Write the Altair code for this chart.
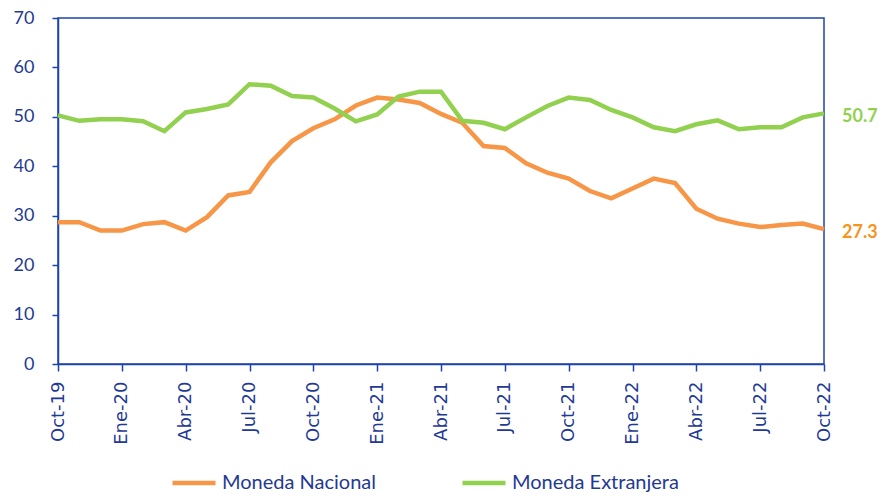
import altair as alt
import pandas as pd

meses = ["Oct-19", "Nov-19", "Dic-19", "Ene-20", "Feb-20", "Mar-20", "Abr-20", "May-20",
         "Jun-20", "Jul-20", "Ago-20", "Sep-20", "Oct-20", "Nov-20", "Dic-20", "Ene-21",
         "Feb-21", "Mar-21", "Abr-21", "May-21", "Jun-21", "Jul-21", "Ago-21", "Sep-21",
         "Oct-21", "Nov-21", "Dic-21", "Ene-22", "Feb-22", "Mar-22", "Abr-22", "May-22",
         "Jun-22", "Jul-22", "Ago-22", "Sep-22", "Oct-22"]

moneda_nacional = [28.7, 28.7, 27.0, 27.0, 28.3, 28.7, 27.0, 29.7, 34.1, 34.8, 40.8, 45.1,
                   47.7, 49.5, 52.3, 53.9, 53.5, 52.8, 50.6, 48.8, 44.1, 43.7, 40.6, 38.7,
                   37.5, 35.0, 33.5, 35.5, 37.5, 36.6, 31.4, 29.4, 28.4, 27.7, 28.1, 28.4, 27.3]

moneda_extranjera = [50.3, 49.2, 49.5, 49.5, 49.1, 47.1, 50.9, 51.6, 52.5, 56.6, 56.3, 54.2,
                     53.9, 51.7, 49.1, 50.5, 54.1, 55.1, 55.1, 49.2, 48.8, 47.5, 49.9, 52.2,
                     53.9, 53.4, 51.4, 49.9, 47.9, 47.1, 48.5, 49.3, 47.5, 47.9, 47.9, 49.9, 50.7]

series = ["Moneda Nacional", "Moneda Extranjera"]
line_colors = ["#F79646", "#92D050"]
text_colors = ["#F7941D", "#92D050"]
tick_labels = meses[::3]
y_ticks = [0, 10, 20, 30, 40, 50, 60, 70]

AXIS_BLUE = "#1F44A8"
TEXT_BLUE = "#1F3A93"
FONT = "Lato"

rows = []
for s, vals in zip(series, [moneda_nacional, moneda_extranjera]):
    for m, v in zip(meses, vals):
        rows.append({"mes": m, "serie": s, "valor": v})
df = pd.DataFrame(rows)

end_df = pd.DataFrame({
    "mes": [meses[-1], meses[-1]],
    "serie": series,
    "valor": [moneda_nacional[-1], moneda_extranjera[-1]],
    "label": [f"{moneda_nacional[-1]:.1f}", f"{moneda_extranjera[-1]:.1f}"],
})

x_enc = alt.X("mes:O", sort=meses,
              scale=alt.Scale(type="point", padding=0),
              axis=alt.Axis(values=tick_labels, labelAngle=270, title=None,
                            labelFontSize=18, labelFont="DejaVu Sans", labelColor=TEXT_BLUE,
                            tickSize=7, tickColor=AXIS_BLUE, tickWidth=1.5,
                            domainColor=AXIS_BLUE, domainWidth=1.5,
                            labelPadding=10, grid=False))
y_enc = alt.Y("valor:Q",
              scale=alt.Scale(domain=[0, 70], nice=False, zero=True),
              axis=alt.Axis(values=y_ticks, title=None, labelFontSize=18, labelFont=FONT,
                            labelColor=TEXT_BLUE, tickSize=6, tickColor=AXIS_BLUE,
                            tickWidth=1.5, domainColor=AXIS_BLUE, domainWidth=1.5,
                            labelPadding=18, grid=False))

lines = alt.Chart(df).mark_line(strokeWidth=4.5, strokeCap="butt").encode(
    x=x_enc,
    y=y_enc,
    color=alt.Color("serie:N", sort=series,
                    scale=alt.Scale(domain=series, range=line_colors),
                    legend=alt.Legend(title=None, orient="none", direction="horizontal",
                                      legendX=112, legendY=441,
                                      symbolType="stroke", symbolSize=1849,
                                      symbolStrokeWidth=4.5, labelFontSize=20,
                                      labelFont=FONT, labelColor=TEXT_BLUE,
                                      labelOffset=4, columnPadding=77,
                                      labelLimit=300)),
)

labels = alt.Chart(end_df).mark_text(align="left", baseline="middle", dx=18, dy=4,
                                     fontSize=18, fontWeight="bold", font=FONT).encode(
    x=alt.X("mes:O", sort=meses),
    y=alt.Y("valor:Q"),
    text="label:N",
    color=alt.Color("serie:N", scale=alt.Scale(domain=series, range=text_colors),
                    legend=None),
)

chart = alt.layer(lines, labels).resolve_scale(color="independent").properties(
    width=766, height=346,
    autosize=alt.AutoSizeParams(type="none"),
    padding={"left": 50, "top": 10, "right": 53, "bottom": 128},
).configure_view(stroke=AXIS_BLUE, strokeWidth=1.5)

chart.save("out.html", embed_options={"renderer": "svg", "actions": False})
